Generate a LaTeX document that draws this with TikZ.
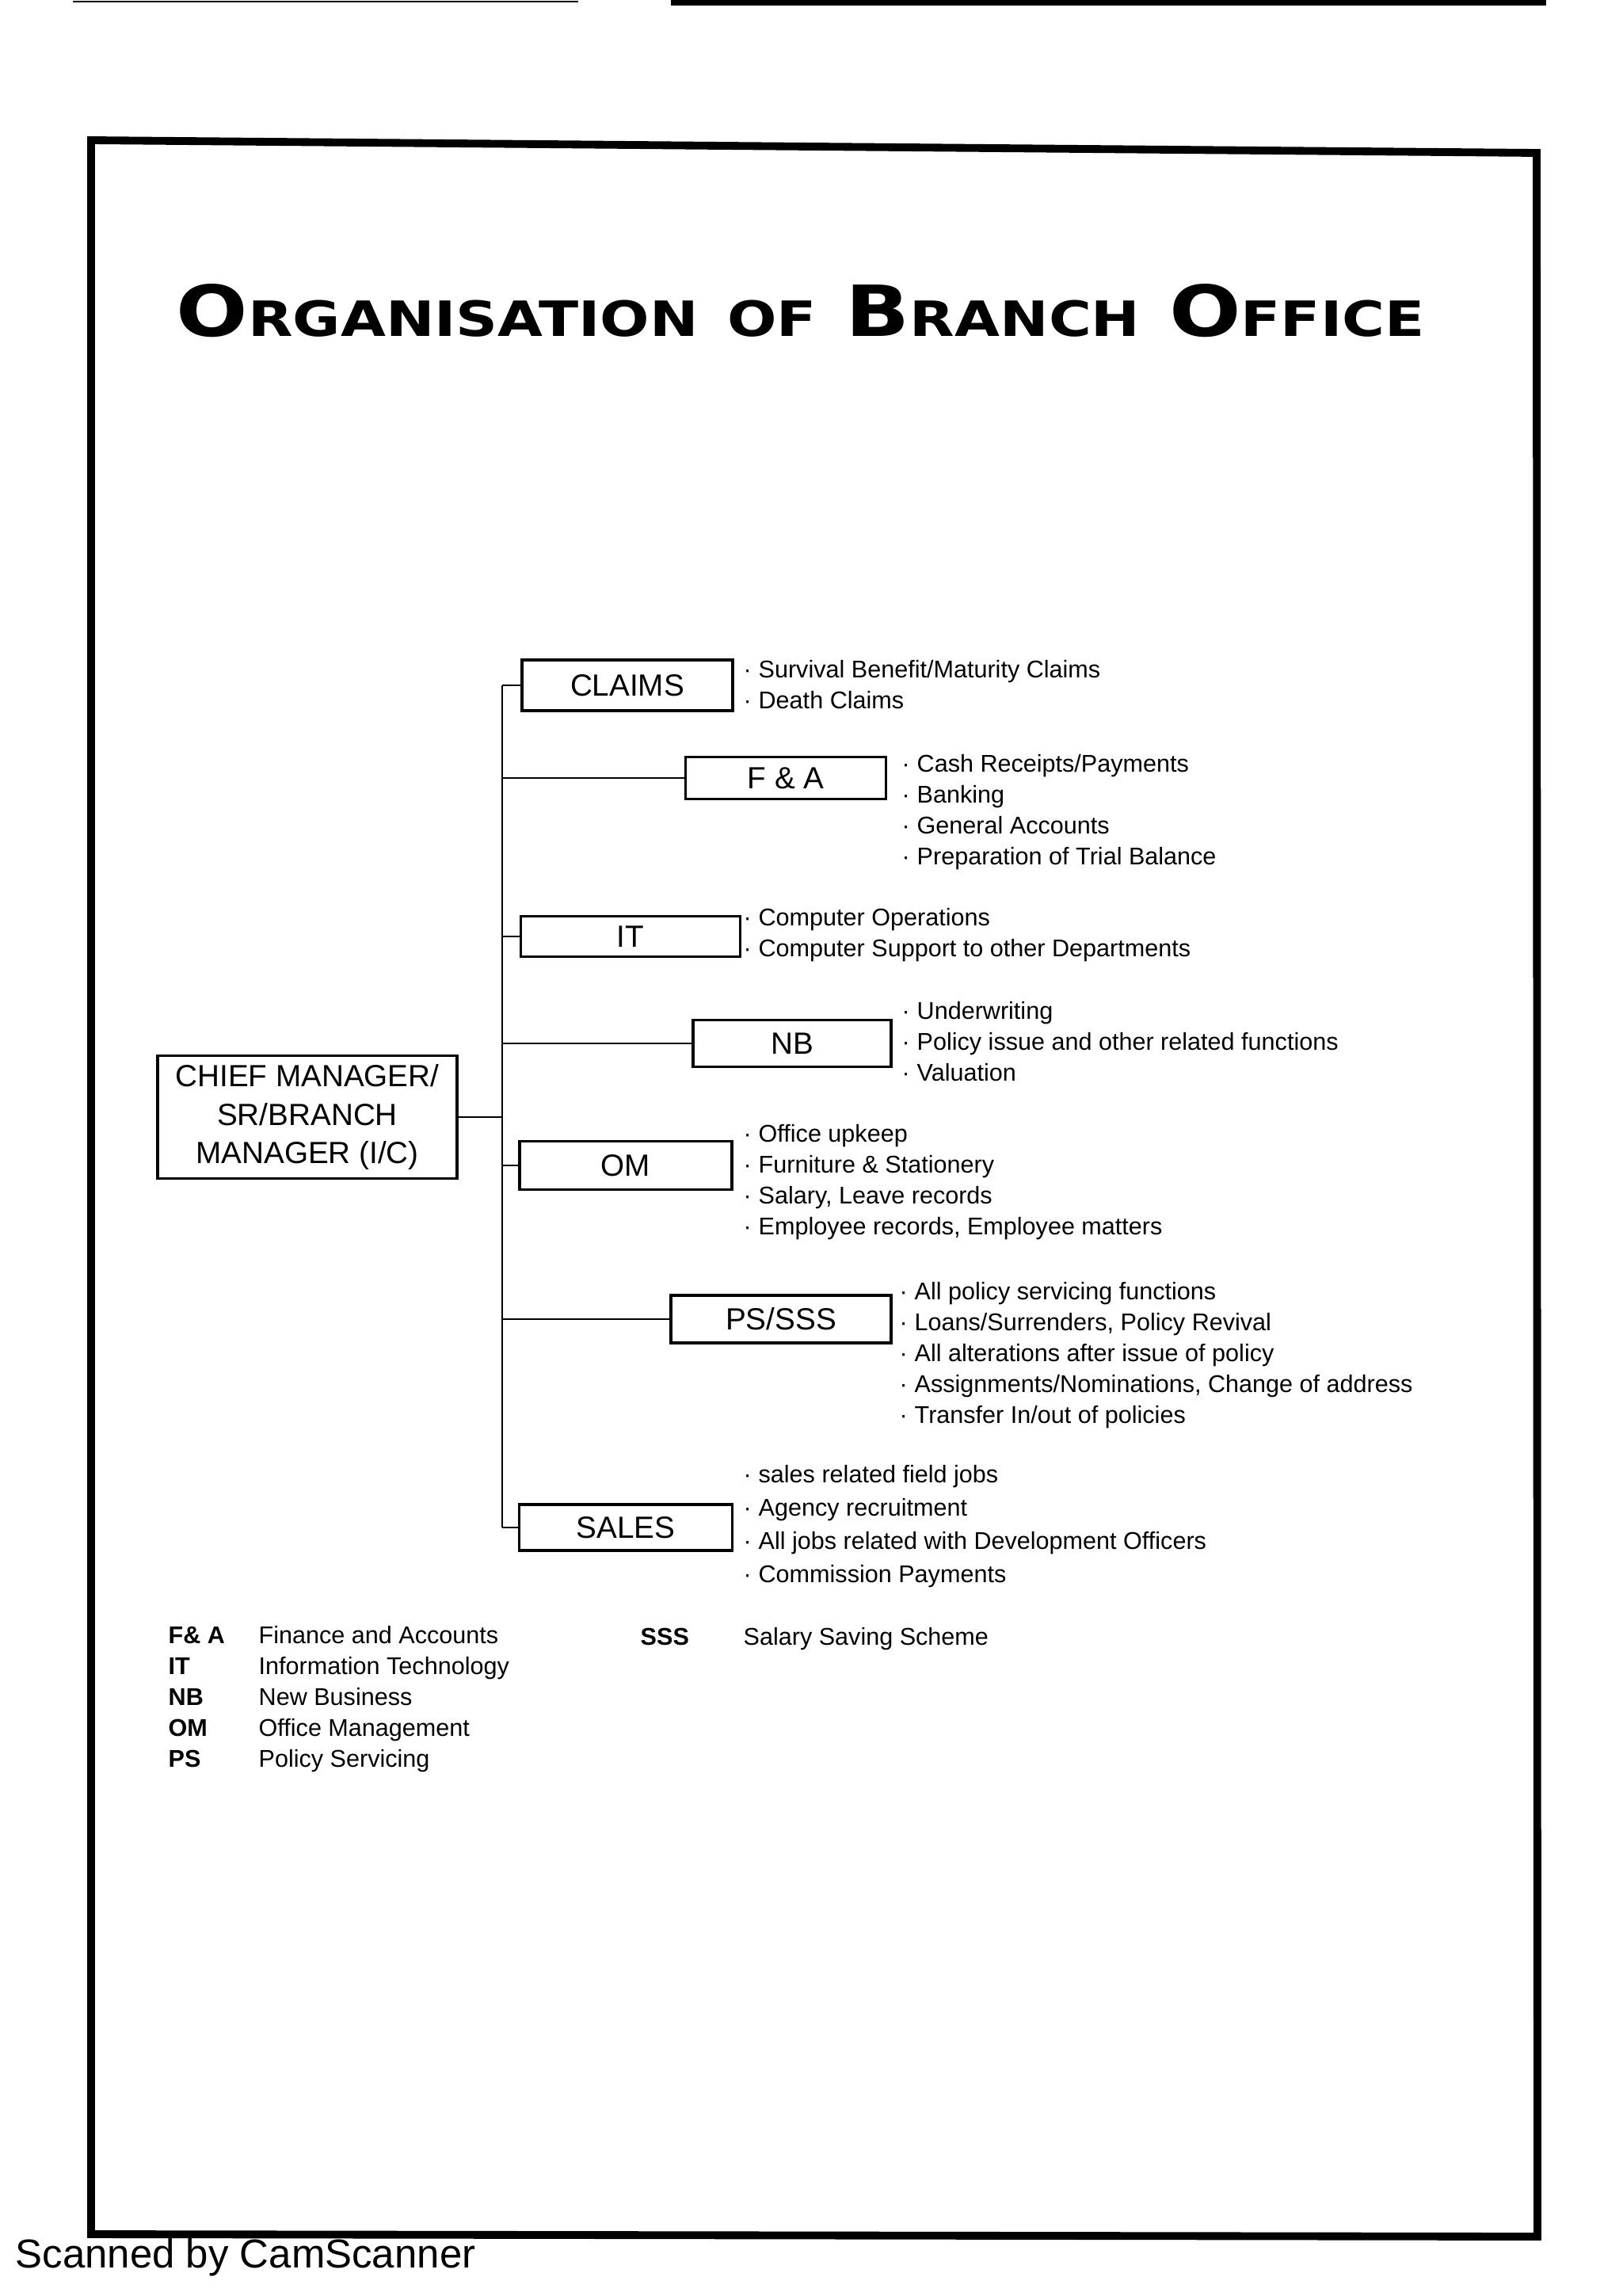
\documentclass[tikz,border=0pt]{standalone}
\usepackage{fontspec}
\setmainfont{Liberation Sans}
\newfontfamily\titlefont{DejaVu Sans}
\usepackage{graphicx}

\newcommand{\capbig}[1]{{\fontsize{20}{20}\selectfont #1}}

\begin{document}
\begin{tikzpicture}[x=1cm, y=1cm,
  dept/.style={draw, line width=1pt, inner sep=0pt, font=\fontsize{11}{13}\selectfont},
  item/.style={anchor=base west, inner sep=0pt, font=\fontsize{8.7}{11}\selectfont},
  abbr/.style={item, font=\fontsize{8.7}{11}\selectfont\bfseries},
  link/.style={line width=0.8pt}]
  \useasboundingbox (0,0) rectangle (20.48,-28.98);

  % page edge and frame
  \draw[line width=0.8pt] (0.92,-0.02) -- (7.30,-0.02);
  \draw[line width=2pt] (8.47,-0.03) -- (19.52,-0.03);
  \draw[line width=2.8pt, line join=miter] (1.15,-1.77) -- (19.40,-1.93)
    -- (19.41,-28.23) -- (1.15,-28.20) -- cycle;

  % title
  \node[anchor=base west, inner sep=0pt] (title) at (2.22,-4.24)
    {\resizebox{15.76cm}{0.66cm}{\titlefont\bfseries\fontsize{13.8}{14}\selectfont
      \capbig{O}RGANISATION\hspace{0.5em}OF\hspace{0.5em}\capbig{B}RANCH\hspace{0.5em}\capbig{O}FFICE}};

  % head and departments
  \node[dept, minimum width=3.78cm, minimum height=1.55cm, align=center,
    font=\fontsize{11}{13.8}\selectfont] (chief) at (3.88,-14.10)
    {CHIEF MANAGER/\\SR/BRANCH\\MANAGER (I/C)};
  \node[dept, minimum width=2.66cm, minimum height=0.64cm] (claims) at (7.92,-8.65) {CLAIMS};
  \node[dept, minimum width=2.53cm, minimum height=0.53cm] (fa) at (9.92,-9.82) {F \& A};
  \node[dept, minimum width=2.77cm, minimum height=0.51cm] (it) at (7.96,-11.82) {IT};
  \node[dept, minimum width=2.50cm, minimum height=0.59cm] (nb) at (10.00,-13.17) {NB};
  \node[dept, minimum width=2.68cm, minimum height=0.61cm] (om) at (7.90,-14.71) {OM};
  \node[dept, minimum width=2.78cm, minimum height=0.60cm] (ps) at (9.86,-16.65) {PS/SSS};
  \node[dept, minimum width=2.69cm, minimum height=0.58cm] (sales) at (7.90,-19.28) {SALES};

  % connectors
  \coordinate (spine) at (6.34,0);
  \draw[link] (claims.west -| spine) -- (sales.west -| spine);
  \draw[link] (chief.east) -- (chief.east -| spine);
  \foreach \n in {claims,fa,it,nb,om,ps,sales}
    \draw[link] (\n.west -| spine) -- (\n.west);

  % duties
  \foreach \txt [count=\k] in {Survival Benefit/Maturity Claims, Death Claims}
    \node[item] (claims\k) at (9.38,{-8.16-0.39*\k}) {·\hspace{2.5pt}\txt};
  \foreach \txt [count=\k] in {Cash Receipts/Payments, Banking, General Accounts,
      Preparation of Trial Balance}
    \node[item] (fa\k) at (11.38,{-9.35-0.39*\k}) {·\hspace{2.5pt}\txt};
  \foreach \txt [count=\k] in {Computer Operations, Computer Support to other Departments}
    \node[item] (it\k) at (9.38,{-11.29-0.39*\k}) {·\hspace{2.5pt}\txt};
  \foreach \txt [count=\k] in {Underwriting, Policy issue and other related functions,
      Valuation}
    \node[item] (nb\k) at (11.38,{-12.47-0.39*\k}) {·\hspace{2.5pt}\txt};
  \foreach \txt [count=\k] in {Office upkeep, Furniture \& Stationery,
      {Salary, Leave records}, {Employee records, Employee matters}}
    \node[item] (om\k) at (9.38,{-14.02-0.39*\k}) {·\hspace{2.5pt}\txt};
  \foreach \txt [count=\k] in {All policy servicing functions,
      {Loans/Surrenders, Policy Revival}, All alterations after issue of policy,
      {Assignments/Nominations, Change of address}, Transfer In/out of policies}
    \node[item] (ps\k) at (11.35,{-16.01-0.39*\k}) {·\hspace{2.5pt}\txt};
  \foreach \txt [count=\k] in {sales related field jobs, Agency recruitment,
      All jobs related with Development Officers, Commission Payments}
    \node[item] (sales\k) at (9.38,{-18.29-0.42*\k}) {·\hspace{2.5pt}\txt};

  % abbreviations
  \foreach \ab/\full [count=\k] in {F\& A/Finance and Accounts, IT/Information Technology,
      NB/New Business, OM/Office Management, PS/Policy Servicing} {
    \node[abbr] (ab\k) at (2.12,{-20.35-0.39*\k}) {\ab};
    \node[item] (full\k) at (3.26,{-20.35-0.39*\k}) {\full};
  }
  \node[abbr] (ab6) at (8.08,-20.76) {SSS};
  \node[item] (full6) at (9.38,-20.76) {Salary Saving Scheme};

  \node[anchor=base west, inner sep=0pt, font=\fontsize{14.5}{16}\selectfont] (scan)
    at (0.19,-28.62) {Scanned by CamScanner};
\end{tikzpicture}
\end{document}
